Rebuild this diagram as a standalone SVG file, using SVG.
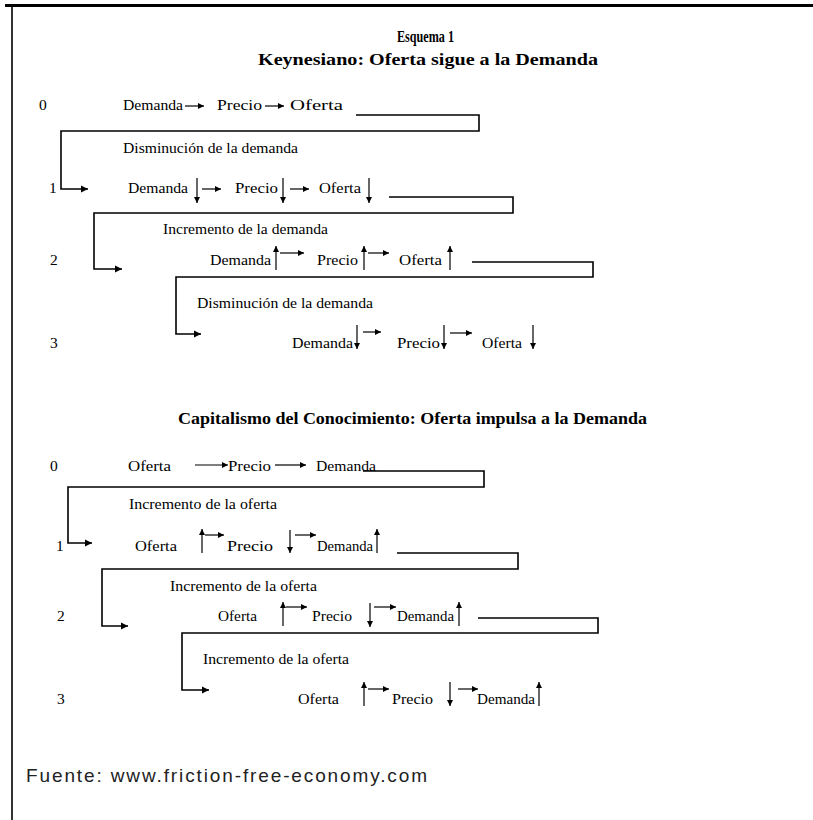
<svg xmlns="http://www.w3.org/2000/svg" width="813" height="820" viewBox="0 0 813 820">
<defs>
<marker id="ah" markerUnits="userSpaceOnUse" markerWidth="8" markerHeight="8" refX="7" refY="4" orient="auto"><path d="M0,0.5 L7,4 L0,7.5 z" fill="#000"/></marker>
<marker id="sh" markerUnits="userSpaceOnUse" markerWidth="7" markerHeight="7" refX="6" refY="3" orient="auto"><path d="M0,0 L6,3 L0,6 z" fill="#000"/></marker>
</defs>
<style>
.t{font-family:"Liberation Serif","Times New Roman",serif;font-size:15.5px;fill:#000}
.b{font-family:"Liberation Serif","Times New Roman",serif;font-size:17px;font-weight:bold;fill:#000}
.f{font-family:"Liberation Sans",Arial,sans-serif;font-size:19px;fill:#222}
.c{fill:none;stroke:#000;stroke-width:1.6}
.a{fill:none;stroke:#000;stroke-width:1.2}
</style>
<rect width="813" height="820" fill="#fff"/>
<g id="frame"><path d="M5,5.5 H813" stroke="#000" stroke-width="3" fill="none"/><path d="M12,5 V820" stroke="#000" stroke-width="1.6" fill="none"/></g>
<g id="titles">
<text class="b" x="397" y="42" textLength="57" lengthAdjust="spacingAndGlyphs">Esquema 1</text>
<text class="b" x="258" y="65" textLength="340" lengthAdjust="spacingAndGlyphs">Keynesiano: Oferta sigue a la Demanda</text>
<text class="b" x="178" y="424" textLength="469" lengthAdjust="spacingAndGlyphs">Capitalismo del Conocimiento: Oferta impulsa a la Demanda</text>
</g>
<g id="k0">
<text class="t" x="39" y="110">0</text>
<text class="t" x="123" y="110" textLength="60" lengthAdjust="spacingAndGlyphs">Demanda</text>
<text class="t" x="217" y="110" textLength="45" lengthAdjust="spacingAndGlyphs">Precio</text>
<text class="t" x="290" y="110" textLength="53" lengthAdjust="spacingAndGlyphs">Oferta</text>
</g>
<g id="k1">
<text class="t" x="123" y="153" textLength="175" lengthAdjust="spacingAndGlyphs">Disminución de la demanda</text>
<text class="t" x="49" y="193">1</text>
<text class="t" x="128" y="193" textLength="60" lengthAdjust="spacingAndGlyphs">Demanda</text>
<text class="t" x="235" y="193" textLength="43" lengthAdjust="spacingAndGlyphs">Precio</text>
<text class="t" x="319" y="193" textLength="42" lengthAdjust="spacingAndGlyphs">Oferta</text>
</g>
<g id="k2">
<text class="t" x="163" y="234" textLength="165" lengthAdjust="spacingAndGlyphs">Incremento de la demanda</text>
<text class="t" x="50" y="265">2</text>
<text class="t" x="210" y="265" textLength="61" lengthAdjust="spacingAndGlyphs">Demanda</text>
<text class="t" x="317" y="265" textLength="41" lengthAdjust="spacingAndGlyphs">Precio</text>
<text class="t" x="399" y="265" textLength="43" lengthAdjust="spacingAndGlyphs">Oferta</text>
</g>
<g id="k3">
<text class="t" x="197" y="308" textLength="176" lengthAdjust="spacingAndGlyphs">Disminución de la demanda</text>
<text class="t" x="50" y="348">3</text>
<text class="t" x="292" y="348" textLength="61" lengthAdjust="spacingAndGlyphs">Demanda</text>
<text class="t" x="397" y="348" textLength="43" lengthAdjust="spacingAndGlyphs">Precio</text>
<text class="t" x="482" y="348" textLength="40" lengthAdjust="spacingAndGlyphs">Oferta</text>
</g>
<g id="c0">
<text class="t" x="50" y="471">0</text>
<text class="t" x="128" y="471" textLength="43" lengthAdjust="spacingAndGlyphs">Oferta</text>
<text class="t" x="228" y="471" textLength="43" lengthAdjust="spacingAndGlyphs">Precio</text>
<text class="t" x="316" y="471" textLength="60" lengthAdjust="spacingAndGlyphs">Demanda</text>
</g>
<g id="c1">
<text class="t" x="129" y="509" textLength="148" lengthAdjust="spacingAndGlyphs">Incremento de la oferta</text>
<text class="t" x="56" y="551">1</text>
<text class="t" x="135" y="551" textLength="42" lengthAdjust="spacingAndGlyphs">Oferta</text>
<text class="t" x="227" y="551" textLength="46" lengthAdjust="spacingAndGlyphs">Precio</text>
<text class="t" x="317" y="551" textLength="56" lengthAdjust="spacingAndGlyphs">Demanda</text>
</g>
<g id="c2">
<text class="t" x="170" y="591" textLength="147" lengthAdjust="spacingAndGlyphs">Incremento de la oferta</text>
<text class="t" x="57" y="621">2</text>
<text class="t" x="218" y="621" textLength="39" lengthAdjust="spacingAndGlyphs">Oferta</text>
<text class="t" x="312" y="621" textLength="40" lengthAdjust="spacingAndGlyphs">Precio</text>
<text class="t" x="397" y="621" textLength="57" lengthAdjust="spacingAndGlyphs">Demanda</text>
</g>
<g id="c3">
<text class="t" x="203" y="664" textLength="146" lengthAdjust="spacingAndGlyphs">Incremento de la oferta</text>
<text class="t" x="57" y="704">3</text>
<text class="t" x="298" y="704" textLength="41" lengthAdjust="spacingAndGlyphs">Oferta</text>
<text class="t" x="392" y="704" textLength="41" lengthAdjust="spacingAndGlyphs">Precio</text>
<text class="t" x="477" y="704" textLength="58" lengthAdjust="spacingAndGlyphs">Demanda</text>
</g>
<g id="footer"><text class="f" x="26" y="782" textLength="401" lengthAdjust="spacing">Fuente: www.friction-free-economy.com</text></g>
<g id="connectors">
<path class="c" d="M356,115 H479 V131 H61 V189 H88" marker-end="url(#ah)"/>
<path class="c" d="M389,197 H513 V213 H94 V269 H122" marker-end="url(#ah)"/>
<path class="c" d="M472,262 H593 V277 H176 V334 H201" marker-end="url(#ah)"/>
<path class="c" d="M363,471 H484 V487 H68 V543 H92" marker-end="url(#ah)"/>
<path class="c" d="M397,553 H518 V569 H102 V626 H128" marker-end="url(#ah)"/>
<path class="c" d="M478,618 H598 V633 H182 V690 H209" marker-end="url(#ah)"/>
<g marker-end="url(#sh)">
<path class="a" d="M185,106 H204"/><path class="a" d="M265,106 H284"/>
<path class="a" d="M197,178 V203"/><path class="a" d="M202,189 H221"/><path class="a" d="M283,178 V203"/><path class="a" d="M290,189 H309"/><path class="a" d="M369,178 V203"/>
<path class="a" d="M276,270 V246"/><path class="a" d="M280,253 H304"/><path class="a" d="M364,270 V246"/><path class="a" d="M368,253 H389"/><path class="a" d="M450,270 V246"/>
<path class="a" d="M357,325 V349"/><path class="a" d="M363,332 H381"/><path class="a" d="M444,325 V349"/><path class="a" d="M450,333 H472"/><path class="a" d="M533,325 V349"/>
<path class="a" d="M195,465 H228"/><path class="a" d="M275,465 H306"/>
<path class="a" d="M202,553 V529"/><path class="a" d="M205,535 H224"/><path class="a" d="M290,530 V553"/><path class="a" d="M295,535 H316"/><path class="a" d="M377,553 V529"/>
<path class="a" d="M283,626 V602"/><path class="a" d="M286,607 H307"/><path class="a" d="M370,603 V627"/><path class="a" d="M374,607 H396"/><path class="a" d="M459,626 V602"/>
<path class="a" d="M364,706 V682"/><path class="a" d="M368,689 H389"/><path class="a" d="M450,682 V706"/><path class="a" d="M458,689 H478"/><path class="a" d="M539,706 V682"/>
</g>
</g>
</svg>
